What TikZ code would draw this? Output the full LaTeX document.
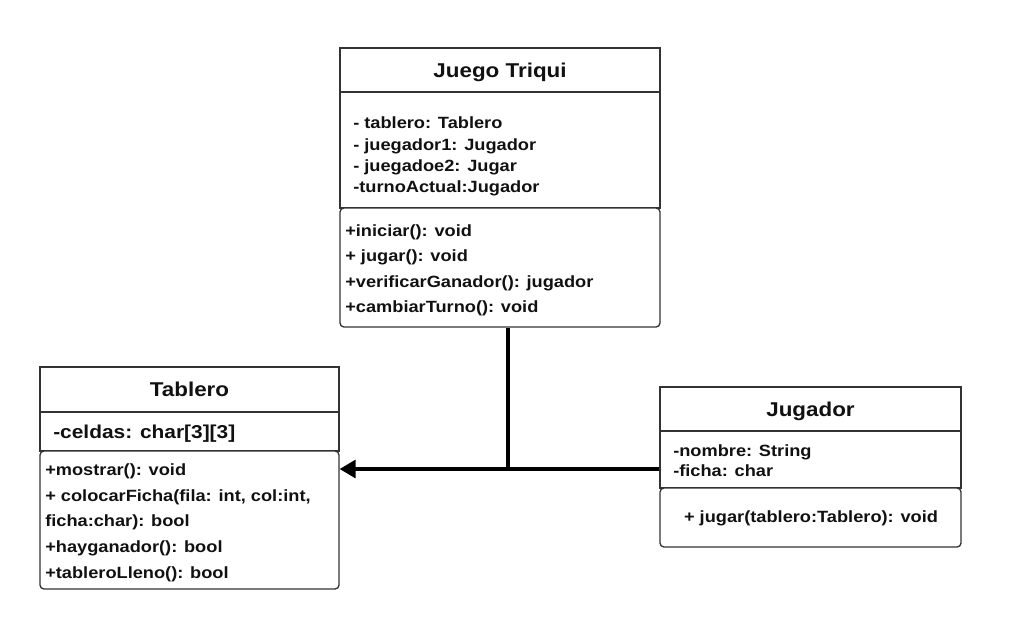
\documentclass[tikz,border=0pt]{standalone}
\usepackage{fontspec}
\setmainfont{Liberation Sans}[FakeStretch=1.12]
\usetikzlibrary{arrows.meta}
\definecolor{boxline}{HTML}{333333}
\definecolor{ink}{HTML}{111111}
\begin{document}
\begin{tikzpicture}[x=0.75pt,y=-0.75pt,
  sect/.style={draw=boxline, line width=1pt, inner sep=0pt, fill=white},
  msect/.style={sect, rounded corners=3pt},
  ttl/.style={font=\bfseries\fontsize{15}{18}\selectfont, text height=10.7pt, text depth=0pt, text=ink},
  attr/.style={anchor=west, inner sep=0pt, font=\bfseries\fontsize{12.2}{14}\selectfont, text height=8.7pt, text depth=0pt, text=ink},
  bigattr/.style={attr, font=\bfseries\fontsize{14}{16}\selectfont, text height=10pt},
  meth/.style={inner sep=0pt, font=\bfseries\fontsize{12.2}{14}\selectfont, text height=8.7pt, text depth=0pt, text=ink},
  conn/.style={line width=2.4pt, black}
]
\useasboundingbox (0,0) rectangle (1030,629);
\fill[white] (0,0) rectangle (1030,629);

% Juego Triqui
\node[sect, ttl, minimum width=240pt, minimum height=33pt] (jtT) at (500,70) {Juego Triqui};
\node[sect, minimum width=240pt, minimum height=87pt] (jtA) at (500,150) {};
\node[msect, minimum width=240pt, minimum height=89.25pt] (jtM) at (500,267.5) {};
\node[attr] (jtA1) at (353,123) {- tablero: Tablero};
\node[attr] (jtA2) at (353,145) {- juegador1: Jugador};
\node[attr] (jtA3) at (353,166) {- juegadoe2: Jugar};
\node[attr] (jtA4) at (353,187) {-turnoActual:Jugador};
\node[attr] (jtM1) at (345,231) {+iniciar(): void};
\node[attr] (jtM2) at (345,256) {+ jugar(): void};
\node[attr] (jtM3) at (345,282) {+verificarGanador(): jugador};
\node[attr] (jtM4) at (345,307) {+cambiarTurno(): void};

% Tablero
\node[sect, ttl, minimum width=224.25pt, minimum height=33.75pt] (tbT) at (189.5,389.5) {Tablero};
\node[sect, minimum width=224.25pt, minimum height=29.25pt] (tbA) at (189.5,431.5) {};
\node[msect, minimum width=224.25pt, minimum height=103.5pt] (tbM) at (189.5,520) {};
\node[bigattr] (tbA1) at (53,432) {-celdas: char[3][3]};
\node[attr] (tbM1) at (45,470) {+mostrar(): void};
\node[attr] (tbM2) at (45,496) {+ colocarFicha(fila: int, col:int,};
\node[attr] (tbM3) at (45,521) {ficha:char): bool};
\node[attr] (tbM4) at (45,547) {+hayganador(): bool};
\node[attr] (tbM5) at (45,573) {+tableroLleno(): bool};

% Jugador
\node[sect, ttl, minimum width=225.75pt, minimum height=33pt] (jgT) at (810.5,409) {Jugador};
\node[sect, minimum width=225.75pt, minimum height=42.75pt] (jgA) at (810.5,459.5) {};
\node[msect, minimum width=225.75pt, minimum height=44.25pt] (jgM) at (810.5,517.5) {};
\node[attr] (jgA1) at (673,451) {-nombre: String};
\node[attr] (jgA2) at (673,471) {-ficha: char};
\node[meth] (jgM1) at (811,517) {+ jugar(tablero:Tablero): void};

% Connectors
\coordinate (j) at (508,469);
\draw[conn] (jtM.south -| j) -- (j);
\draw[conn, -{Triangle[length=12pt,width=13.5pt]}] (j -| jgA.west) -- (j -| tbM.east);
\end{tikzpicture}
\end{document}
